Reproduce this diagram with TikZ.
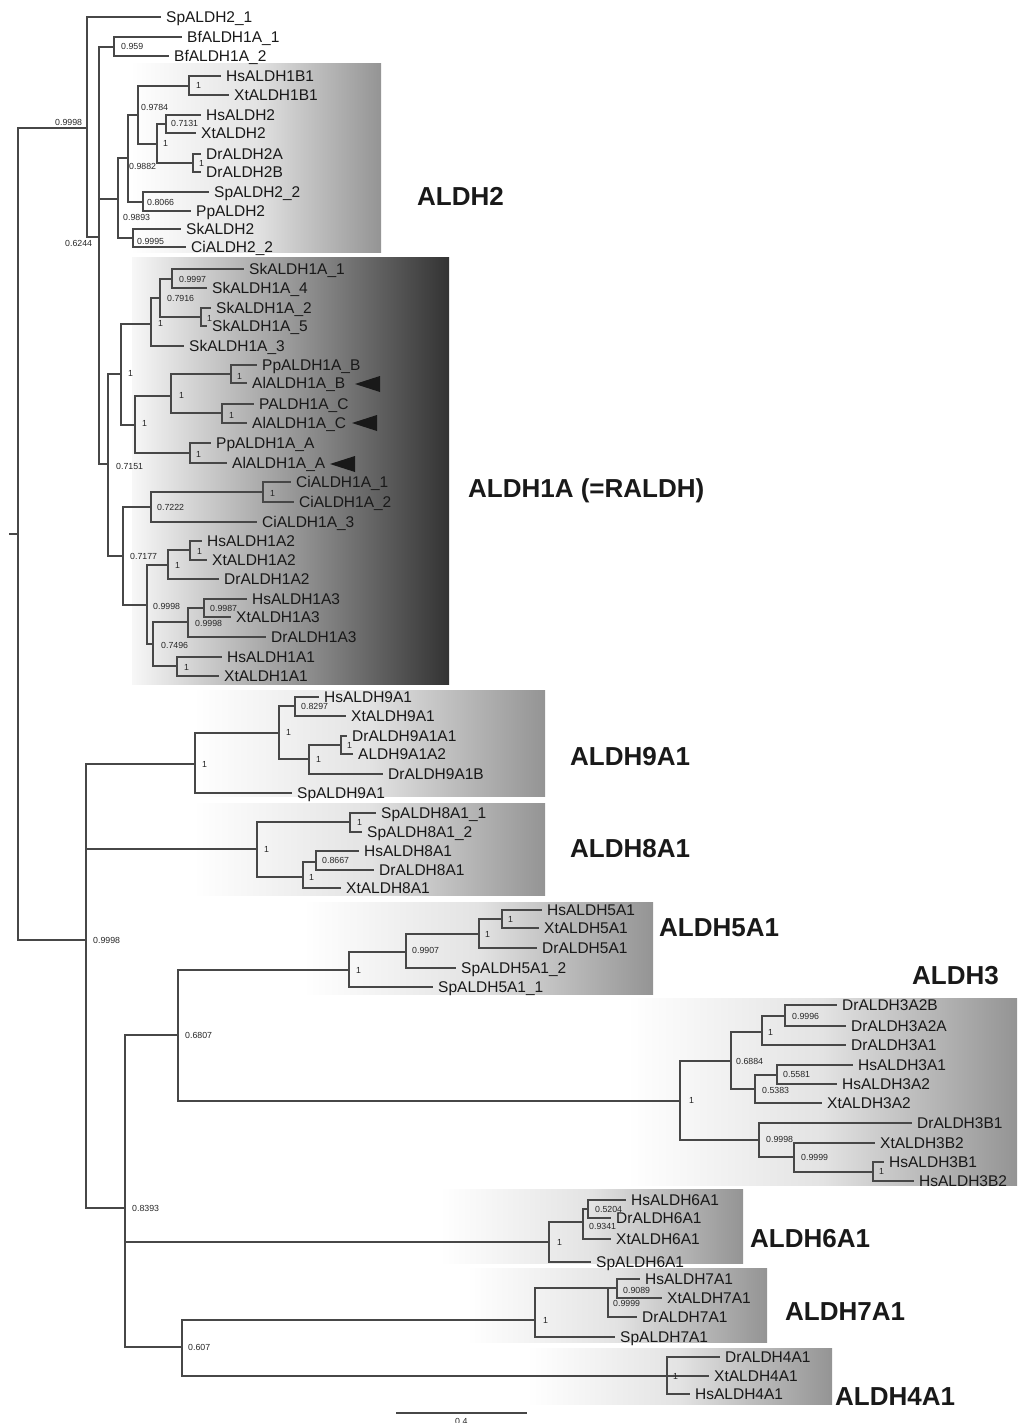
\documentclass[tikz,border=0pt]{standalone}
\usepackage{fontspec}
\setmainfont{Liberation Sans}
\usetikzlibrary{positioning}
\newcommand{\leaffont}{\fontsize{15.5}{16}\selectfont}
\newcommand{\suppfont}{\fontsize{8.8}{9}\selectfont}
\newcommand{\groupfont}{\fontsize{26}{27}\selectfont\bfseries}
\tikzstyle{leaf} = [anchor=west, inner xsep=5pt, inner ysep=0pt, text height=11pt, text depth=0pt, font=\leaffont, text=black!90]
\tikzstyle{supp} = [anchor=west, inner sep=0pt, text height=6.4pt, text depth=0pt, font=\suppfont, text=black!85]
\tikzstyle{group} = [anchor=west, inner sep=0pt, text height=18.6pt, text depth=0pt, font=\groupfont, text=black!90]
\tikzstyle{branch} = [line width=1.1pt, draw=black!72]
\tikzstyle{pale} = [left color=white, right color=black!42, middle color=black!11]
\tikzstyle{dark} = [left color=black!3, right color=black!80, middle color=black!40]

\begin{document}
\begin{tikzpicture}[x=1pt, y=-1pt]
      \useasboundingbox (0,0) rectangle (1017,1423);
      % clade boxes
      \shade[pale] (130,64) rectangle (381,253);
      \shade[dark] (132,258) rectangle (449,684);
      \shade[pale] (193,690) rectangle (545,796);
      \shade[pale] (193,803) rectangle (545,895);
      \shade[pale] (303,902) rectangle (653,994);
      \shade[pale] (627,998) rectangle (1017,1185);
      \shade[pale] (440,1189) rectangle (743,1263);
      \shade[pale] (467,1268) rectangle (767,1342);
      \shade[pale] (527,1348) rectangle (832,1404);
      % internal nodes
      \coordinate (r0) at (9,534);
      \coordinate (r) at (18,534);
      \coordinate (n1) at (87,128);
      \coordinate (n2) at (99,237);
      \coordinate (nBf) at (114,47);
      \coordinate (n3) at (118,199);
      \coordinate (n4) at (128,158);
      \coordinate (n5) at (138,115);
      \coordinate (n1B1) at (189,86);
      \coordinate (n6) at (157,144);
      \coordinate (nHX2) at (166,124);
      \coordinate (nDr2) at (193,163);
      \coordinate (n7) at (143,202);
      \coordinate (n8) at (133,238);
      \coordinate (n9) at (108,464);
      \coordinate (n10) at (121,374);
      \coordinate (n11) at (151,324);
      \coordinate (n12) at (160,298);
      \coordinate (n13) at (172,279);
      \coordinate (n14) at (201,317);
      \coordinate (n15) at (135,425);
      \coordinate (n16) at (171,396);
      \coordinate (n17) at (231,374);
      \coordinate (n18) at (222,413);
      \coordinate (n19) at (190,453);
      \coordinate (n20) at (123,556);
      \coordinate (n21) at (151,507);
      \coordinate (n22) at (263,492);
      \coordinate (n23) at (147,605);
      \coordinate (n24) at (168,565);
      \coordinate (n25) at (190,550);
      \coordinate (n26) at (153,644);
      \coordinate (n27) at (188,622);
      \coordinate (n28) at (204,608);
      \coordinate (n29) at (177,666);
      \coordinate (n30) at (86,940);
      \coordinate (n9A) at (195,764);
      \coordinate (n9B) at (279,733);
      \coordinate (n9C) at (295,706);
      \coordinate (n9D) at (309,759);
      \coordinate (n9E) at (341,745);
      \coordinate (n8A) at (257,849);
      \coordinate (n8B) at (350,822);
      \coordinate (n8C) at (303,877);
      \coordinate (n8D) at (316,862);
      \coordinate (n31) at (125,1208);
      \coordinate (n32) at (178,1035);
      \coordinate (n5A) at (349,970);
      \coordinate (n5B) at (406,952);
      \coordinate (n5C) at (479,934);
      \coordinate (n5D) at (502,919);
      \coordinate (n3A) at (680,1101);
      \coordinate (n3B) at (731,1061);
      \coordinate (n3C) at (762,1032);
      \coordinate (n3D) at (785,1016);
      \coordinate (n3E) at (755,1089);
      \coordinate (n3F) at (777,1075);
      \coordinate (n3G) at (759,1140);
      \coordinate (n3H) at (794,1157);
      \coordinate (n3I) at (873,1172);
      \coordinate (n6A) at (549,1242);
      \coordinate (n6B) at (583,1222);
      \coordinate (n6C) at (588,1209);
      \coordinate (n33) at (182,1347);
      \coordinate (n7A) at (535,1320);
      \coordinate (n7B) at (608,1288);
      \coordinate (n7C) at (617,1288);
      \coordinate (n4A) at (667,1376);
      % leaves
      \node[leaf] (SpALDH2-1) at (161,17) {SpALDH2\_1};
      \node[leaf] (BfALDH1A-1) at (182,37) {BfALDH1A\_1};
      \node[leaf] (BfALDH1A-2) at (169,56) {BfALDH1A\_2};
      \node[leaf] (HsALDH1B1) at (221,76) {HsALDH1B1};
      \node[leaf] (XtALDH1B1) at (229,95) {XtALDH1B1};
      \node[leaf] (HsALDH2) at (201,115) {HsALDH2};
      \node[leaf] (XtALDH2) at (196,133) {XtALDH2};
      \node[leaf] (DrALDH2A) at (201,154) {DrALDH2A};
      \node[leaf] (DrALDH2B) at (201,172) {DrALDH2B};
      \node[leaf] (SpALDH2-2) at (209,192) {SpALDH2\_2};
      \node[leaf] (PpALDH2) at (191,211) {PpALDH2};
      \node[leaf] (SkALDH2) at (181,229) {SkALDH2};
      \node[leaf] (CiALDH2-2) at (186,247) {CiALDH2\_2};
      \node[leaf] (SkALDH1A-1) at (244,269) {SkALDH1A\_1};
      \node[leaf] (SkALDH1A-4) at (207,288) {SkALDH1A\_4};
      \node[leaf] (SkALDH1A-2) at (211,308) {SkALDH1A\_2};
      \node[leaf] (SkALDH1A-5) at (207,326) {SkALDH1A\_5};
      \node[leaf] (SkALDH1A-3) at (184,346) {SkALDH1A\_3};
      \node[leaf] (PpALDH1A-B) at (257,365) {PpALDH1A\_B};
      \node[leaf] (AlALDH1A-B) at (247,383) {AlALDH1A\_B};
      \node[leaf] (PALDH1A-C) at (254,404) {PALDH1A\_C};
      \node[leaf] (AlALDH1A-C) at (247,423) {AlALDH1A\_C};
      \node[leaf] (PpALDH1A-A) at (211,443) {PpALDH1A\_A};
      \node[leaf] (AlALDH1A-A) at (227,463) {AlALDH1A\_A};
      \node[leaf] (CiALDH1A-1) at (291,482) {CiALDH1A\_1};
      \node[leaf] (CiALDH1A-2) at (294,502) {CiALDH1A\_2};
      \node[leaf] (CiALDH1A-3) at (257,522) {CiALDH1A\_3};
      \node[leaf] (HsALDH1A2) at (202,541) {HsALDH1A2};
      \node[leaf] (XtALDH1A2) at (207,560) {XtALDH1A2};
      \node[leaf] (DrALDH1A2) at (219,579) {DrALDH1A2};
      \node[leaf] (HsALDH1A3) at (247,599) {HsALDH1A3};
      \node[leaf] (XtALDH1A3) at (231,617) {XtALDH1A3};
      \node[leaf] (DrALDH1A3) at (266,637) {DrALDH1A3};
      \node[leaf] (HsALDH1A1) at (222,657) {HsALDH1A1};
      \node[leaf] (XtALDH1A1) at (219,676) {XtALDH1A1};
      \node[leaf] (HsALDH9A1) at (319,697) {HsALDH9A1};
      \node[leaf] (XtALDH9A1) at (346,716) {XtALDH9A1};
      \node[leaf] (DrALDH9A1A1) at (347,736) {DrALDH9A1A1};
      \node[leaf] (ALDH9A1A2) at (353,754) {ALDH9A1A2};
      \node[leaf] (DrALDH9A1B) at (383,774) {DrALDH9A1B};
      \node[leaf] (SpALDH9A1) at (292,793) {SpALDH9A1};
      \node[leaf] (SpALDH8A1-1) at (376,813) {SpALDH8A1\_1};
      \node[leaf] (SpALDH8A1-2) at (362,832) {SpALDH8A1\_2};
      \node[leaf] (HsALDH8A1) at (359,851) {HsALDH8A1};
      \node[leaf] (DrALDH8A1) at (374,870) {DrALDH8A1};
      \node[leaf] (XtALDH8A1) at (341,888) {XtALDH8A1};
      \node[leaf] (HsALDH5A1) at (542,910) {HsALDH5A1};
      \node[leaf] (XtALDH5A1) at (539,928) {XtALDH5A1};
      \node[leaf] (DrALDH5A1) at (537,948) {DrALDH5A1};
      \node[leaf] (SpALDH5A1-2) at (456,968) {SpALDH5A1\_2};
      \node[leaf] (SpALDH5A1-1) at (433,987) {SpALDH5A1\_1};
      \node[leaf] (DrALDH3A2B) at (837,1005) {DrALDH3A2B};
      \node[leaf] (DrALDH3A2A) at (846,1026) {DrALDH3A2A};
      \node[leaf] (DrALDH3A1) at (846,1045) {DrALDH3A1};
      \node[leaf] (HsALDH3A1) at (853,1065) {HsALDH3A1};
      \node[leaf] (HsALDH3A2) at (837,1084) {HsALDH3A2};
      \node[leaf] (XtALDH3A2) at (822,1103) {XtALDH3A2};
      \node[leaf] (DrALDH3B1) at (912,1123) {DrALDH3B1};
      \node[leaf] (XtALDH3B2) at (875,1143) {XtALDH3B2};
      \node[leaf] (HsALDH3B1) at (884,1162) {HsALDH3B1};
      \node[leaf] (HsALDH3B2) at (914,1181) {HsALDH3B2};
      \node[leaf] (HsALDH6A1) at (626,1200) {HsALDH6A1};
      \node[leaf] (DrALDH6A1) at (611,1218) {DrALDH6A1};
      \node[leaf] (XtALDH6A1) at (611,1239) {XtALDH6A1};
      \node[leaf] (SpALDH6A1) at (591,1262) {SpALDH6A1};
      \node[leaf] (HsALDH7A1) at (640,1279) {HsALDH7A1};
      \node[leaf] (XtALDH7A1) at (662,1298) {XtALDH7A1};
      \node[leaf] (DrALDH7A1) at (637,1317) {DrALDH7A1};
      \node[leaf] (SpALDH7A1) at (615,1337) {SpALDH7A1};
      \node[leaf] (DrALDH4A1) at (720,1357) {DrALDH4A1};
      \node[leaf] (XtALDH4A1) at (709,1376) {XtALDH4A1};
      \node[leaf] (HsALDH4A1) at (690,1394) {HsALDH4A1};
      % branches
      \draw[branch] (r0) -- (r);
      \draw[branch] (r) |- (n1);  \draw[branch] (r) |- (n30);
      \draw[branch] (n1) |- (SpALDH2-1.west);  \draw[branch] (n1) |- (n2);
      \draw[branch] (n2) |- (nBf);  \draw[branch] (n2) |- (n3);  \draw[branch] (n2) |- (n9);
      \draw[branch] (nBf) |- (BfALDH1A-1.west);  \draw[branch] (nBf) |- (BfALDH1A-2.west);
      \draw[branch] (n3) |- (n4);  \draw[branch] (n3) |- (n8);
      \draw[branch] (n4) |- (n5);  \draw[branch] (n4) |- (n7);
      \draw[branch] (n5) |- (n1B1);  \draw[branch] (n5) |- (n6);
      \draw[branch] (n1B1) |- (HsALDH1B1.west);  \draw[branch] (n1B1) |- (XtALDH1B1.west);
      \draw[branch] (n6) |- (nHX2);  \draw[branch] (n6) |- (nDr2);
      \draw[branch] (nHX2) |- (HsALDH2.west);  \draw[branch] (nHX2) |- (XtALDH2.west);
      \draw[branch] (nDr2) |- (DrALDH2A.west);  \draw[branch] (nDr2) |- (DrALDH2B.west);
      \draw[branch] (n7) |- (SpALDH2-2.west);  \draw[branch] (n7) |- (PpALDH2.west);
      \draw[branch] (n8) |- (SkALDH2.west);  \draw[branch] (n8) |- (CiALDH2-2.west);
      \draw[branch] (n9) |- (n10);  \draw[branch] (n9) |- (n20);
      \draw[branch] (n10) |- (n11);  \draw[branch] (n10) |- (n15);
      \draw[branch] (n11) |- (n12);  \draw[branch] (n11) |- (SkALDH1A-3.west);
      \draw[branch] (n12) |- (n13);  \draw[branch] (n12) |- (n14);
      \draw[branch] (n13) |- (SkALDH1A-1.west);  \draw[branch] (n13) |- (SkALDH1A-4.west);
      \draw[branch] (n14) |- (SkALDH1A-2.west);  \draw[branch] (n14) |- (SkALDH1A-5.west);
      \draw[branch] (n15) |- (n16);  \draw[branch] (n15) |- (n19);
      \draw[branch] (n16) |- (n17);  \draw[branch] (n16) |- (n18);
      \draw[branch] (n17) |- (PpALDH1A-B.west);  \draw[branch] (n17) |- (AlALDH1A-B.west);
      \draw[branch] (n18) |- (PALDH1A-C.west);  \draw[branch] (n18) |- (AlALDH1A-C.west);
      \draw[branch] (n19) |- (PpALDH1A-A.west);  \draw[branch] (n19) |- (AlALDH1A-A.west);
      \draw[branch] (n20) |- (n21);  \draw[branch] (n20) |- (n23);
      \draw[branch] (n21) |- (n22);  \draw[branch] (n21) |- (CiALDH1A-3.west);
      \draw[branch] (n22) |- (CiALDH1A-1.west);  \draw[branch] (n22) |- (CiALDH1A-2.west);
      \draw[branch] (n23) |- (n24);  \draw[branch] (n23) |- (n26);
      \draw[branch] (n24) |- (n25);  \draw[branch] (n24) |- (DrALDH1A2.west);
      \draw[branch] (n25) |- (HsALDH1A2.west);  \draw[branch] (n25) |- (XtALDH1A2.west);
      \draw[branch] (n26) |- (n27);  \draw[branch] (n26) |- (n29);
      \draw[branch] (n27) |- (n28);  \draw[branch] (n27) |- (DrALDH1A3.west);
      \draw[branch] (n28) |- (HsALDH1A3.west);  \draw[branch] (n28) |- (XtALDH1A3.west);
      \draw[branch] (n29) |- (HsALDH1A1.west);  \draw[branch] (n29) |- (XtALDH1A1.west);
      \draw[branch] (n30) |- (n9A);  \draw[branch] (n30) |- (n8A);  \draw[branch] (n30) |- (n31);
      \draw[branch] (n9A) |- (n9B);  \draw[branch] (n9A) |- (SpALDH9A1.west);
      \draw[branch] (n9B) |- (n9C);  \draw[branch] (n9B) |- (n9D);
      \draw[branch] (n9C) |- (HsALDH9A1.west);  \draw[branch] (n9C) |- (XtALDH9A1.west);
      \draw[branch] (n9D) |- (n9E);  \draw[branch] (n9D) |- (DrALDH9A1B.west);
      \draw[branch] (n9E) |- (DrALDH9A1A1.west);  \draw[branch] (n9E) |- (ALDH9A1A2.west);
      \draw[branch] (n8A) |- (n8B);  \draw[branch] (n8A) |- (n8C);
      \draw[branch] (n8B) |- (SpALDH8A1-1.west);  \draw[branch] (n8B) |- (SpALDH8A1-2.west);
      \draw[branch] (n8C) |- (n8D);  \draw[branch] (n8C) |- (XtALDH8A1.west);
      \draw[branch] (n8D) |- (HsALDH8A1.west);  \draw[branch] (n8D) |- (DrALDH8A1.west);
      \draw[branch] (n31) |- (n32);  \draw[branch] (n31) |- (n6A);  \draw[branch] (n31) |- (n33);
      \draw[branch] (n32) |- (n5A);  \draw[branch] (n32) |- (n3A);
      \draw[branch] (n5A) |- (n5B);  \draw[branch] (n5A) |- (SpALDH5A1-1.west);
      \draw[branch] (n5B) |- (n5C);  \draw[branch] (n5B) |- (SpALDH5A1-2.west);
      \draw[branch] (n5C) |- (n5D);  \draw[branch] (n5C) |- (DrALDH5A1.west);
      \draw[branch] (n5D) |- (HsALDH5A1.west);  \draw[branch] (n5D) |- (XtALDH5A1.west);
      \draw[branch] (n3A) |- (n3B);  \draw[branch] (n3A) |- (n3G);
      \draw[branch] (n3B) |- (n3C);  \draw[branch] (n3B) |- (n3E);
      \draw[branch] (n3C) |- (n3D);  \draw[branch] (n3C) |- (DrALDH3A1.west);
      \draw[branch] (n3D) |- (DrALDH3A2B.west);  \draw[branch] (n3D) |- (DrALDH3A2A.west);
      \draw[branch] (n3E) |- (n3F);  \draw[branch] (n3E) |- (XtALDH3A2.west);
      \draw[branch] (n3F) |- (HsALDH3A1.west);  \draw[branch] (n3F) |- (HsALDH3A2.west);
      \draw[branch] (n3G) |- (DrALDH3B1.west);  \draw[branch] (n3G) |- (n3H);
      \draw[branch] (n3H) |- (XtALDH3B2.west);  \draw[branch] (n3H) |- (n3I);
      \draw[branch] (n3I) |- (HsALDH3B1.west);  \draw[branch] (n3I) |- (HsALDH3B2.west);
      \draw[branch] (n6A) |- (n6B);  \draw[branch] (n6A) |- (SpALDH6A1.west);
      \draw[branch] (n6B) |- (n6C);  \draw[branch] (n6B) |- (XtALDH6A1.west);
      \draw[branch] (n6C) |- (HsALDH6A1.west);  \draw[branch] (n6C) |- (DrALDH6A1.west);
      \draw[branch] (n33) |- (n7A);  \draw[branch] (n33) |- (n4A);
      \draw[branch] (n7A) |- (n7B);  \draw[branch] (n7A) |- (SpALDH7A1.west);
      \draw[branch] (n7B) |- (n7C);  \draw[branch] (n7B) |- (DrALDH7A1.west);
      \draw[branch] (n7C) |- (HsALDH7A1.west);  \draw[branch] (n7C) |- (XtALDH7A1.west);
      \draw[branch] (n4A) |- (DrALDH4A1.west);  \draw[branch] (n4A) |- (XtALDH4A1.west);
      \draw[branch] (n4A) |- (HsALDH4A1.west);
      % support values
      \node[supp] (s1) at (55,122) {0.9998};
      \node[supp] (s2) at (65,243) {0.6244};
      \node[supp] (sBf) at (121,46) {0.959};
      \node[supp] (s3) at (123,217) {0.9893};
      \node[supp] (s4) at (129,166) {0.9882};
      \node[supp] (s5) at (141,107) {0.9784};
      \node[supp] (s1B1) at (196,85) {1};
      \node[supp] (s6) at (163,143) {1};
      \node[supp] (sHX2) at (171,123) {0.7131};
      \node[supp] (sDr2) at (199,163) {1};
      \node[supp] (s7) at (147,202) {0.8066};
      \node[supp] (s8) at (137,241) {0.9995};
      \node[supp] (s9) at (116,466) {0.7151};
      \node[supp] (s10) at (128,373) {1};
      \node[supp] (s11) at (158,323) {1};
      \node[supp] (s12) at (167,298) {0.7916};
      \node[supp] (s13) at (179,279) {0.9997};
      \node[supp] (s14) at (207,318) {1};
      \node[supp] (s15) at (142,423) {1};
      \node[supp] (s16) at (179,395) {1};
      \node[supp] (s17) at (237,376) {1};
      \node[supp] (s18) at (229,415) {1};
      \node[supp] (s19) at (196,454) {1};
      \node[supp] (s20) at (130,556) {0.7177};
      \node[supp] (s21) at (157,507) {0.7222};
      \node[supp] (s22) at (270,493) {1};
      \node[supp] (s23) at (153,606) {0.9998};
      \node[supp] (s24) at (175,565) {1};
      \node[supp] (s25) at (197,551) {1};
      \node[supp] (s26) at (161,645) {0.7496};
      \node[supp] (s27) at (195,623) {0.9998};
      \node[supp] (s28) at (210,608) {0.9987};
      \node[supp] (s29) at (184,667) {1};
      \node[supp] (s30) at (93,940) {0.9998};
      \node[supp] (s9A) at (202,764) {1};
      \node[supp] (s9B) at (286,732) {1};
      \node[supp] (s9C) at (301,706) {0.8297};
      \node[supp] (s9D) at (316,759) {1};
      \node[supp] (s9E) at (347,745) {1};
      \node[supp] (s8A) at (264,849) {1};
      \node[supp] (s8B) at (357,822) {1};
      \node[supp] (s8C) at (309,877) {1};
      \node[supp] (s8D) at (322,860) {0.8667};
      \node[supp] (s31) at (132,1208) {0.8393};
      \node[supp] (s32) at (185,1035) {0.6807};
      \node[supp] (s5A) at (356,970) {1};
      \node[supp] (s5B) at (412,950) {0.9907};
      \node[supp] (s5C) at (485,934) {1};
      \node[supp] (s5D) at (508,919) {1};
      \node[supp] (s3A) at (689,1100) {1};
      \node[supp] (s3B) at (736,1061) {0.6884};
      \node[supp] (s3C) at (768,1032) {1};
      \node[supp] (s3D) at (792,1016) {0.9996};
      \node[supp] (s3E) at (762,1090) {0.5383};
      \node[supp] (s3F) at (783,1074) {0.5581};
      \node[supp] (s3G) at (766,1139) {0.9998};
      \node[supp] (s3H) at (801,1157) {0.9999};
      \node[supp] (s3I) at (879,1171) {1};
      \node[supp] (s6A) at (557,1242) {1};
      \node[supp] (s6B) at (589,1226) {0.9341};
      \node[supp] (s6C) at (595,1209) {0.5204};
      \node[supp] (s33) at (188,1347) {0.607};
      \node[supp] (s7A) at (543,1320) {1};
      \node[supp] (s7B) at (613,1303) {0.9999};
      \node[supp] (s7C) at (623,1290) {0.9089};
      \node[supp] (s4A) at (673,1376) {1};
      % arrowheads at the Al sequences
      \fill[black!90] (355,384) -- (380,376) -- (380,392) -- cycle;
      \fill[black!90] (352,423) -- (377,415) -- (377,431) -- cycle;
      \fill[black!90] (330,464) -- (355,456) -- (355,472) -- cycle;
      % family names
      \node[group] (gALDH2) at (417,196) {ALDH2};
      \node[group] (gALDH1A) at (468,488) {ALDH1A (=RALDH)};
      \node[group] (gALDH9A1) at (570,756) {ALDH9A1};
      \node[group] (gALDH8A1) at (570,848) {ALDH8A1};
      \node[group] (gALDH5A1) at (659,927) {ALDH5A1};
      \node[group] (gALDH3) at (912,975) {ALDH3};
      \node[group] (gALDH6A1) at (750,1238) {ALDH6A1};
      \node[group] (gALDH7A1) at (785,1311) {ALDH7A1};
      \node[group] (gALDH4A1) at (835,1396) {ALDH4A1};
      % scale bar
      \coordinate (sb1) at (396,1413);
      \coordinate (sb2) at (527,1413);
      \draw[branch] (sb1) -- (sb2);
      \node[supp] (sbl) at (455,1421) {0.4};
\end{tikzpicture}
\end{document}
